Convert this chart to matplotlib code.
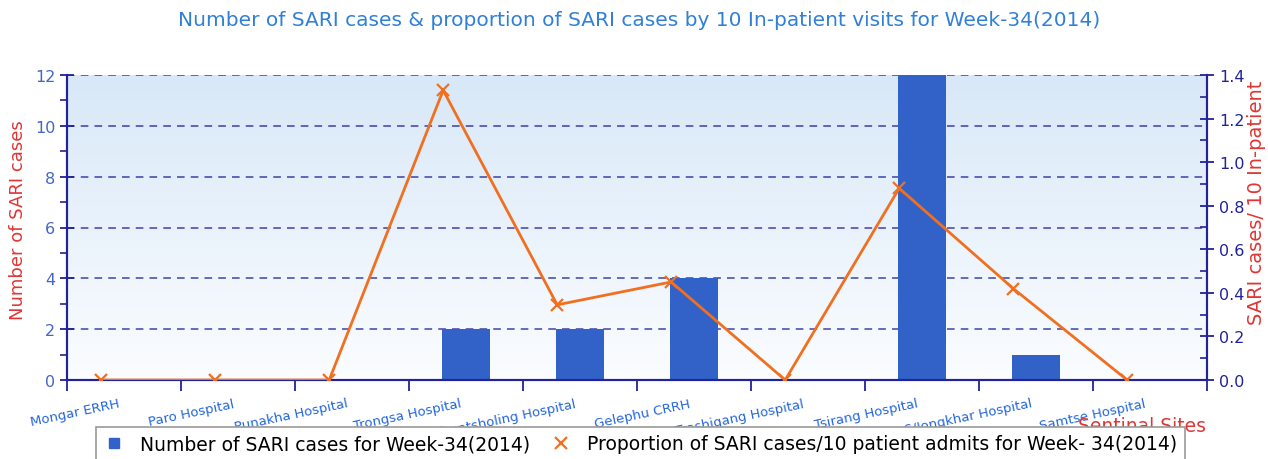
import numpy as np
import matplotlib
matplotlib.use("Agg")
import matplotlib.pyplot as plt
from matplotlib.lines import Line2D
from matplotlib.ticker import MultipleLocator

matplotlib.rcParams['font.family'] = "DejaVu Sans"

sites = ["Mongar ERRH", "Paro Hospital", "Punakha Hospital", "Trongsa Hospital",
         "Phuntsholing Hospital", "Gelephu CRRH", "Trashigang Hospital",
         "Tsirang Hospital", "S/Jongkhar Hospital", "Samtse Hospital"]
sari_cases = [0, 0, 0, 2, 2, 4, 0, 12, 1, 0]
sari_prop = [0, 0, 0, 1.33, 0.345, 0.45, 0, 0.88, 0.42, 0]

navy = "#22229a"
blue_bar = "#3262c8"
orange = "#f07020"
red = "#e03535"

fig = plt.figure(figsize=(12.68, 4.6), dpi=100)
ax = fig.add_axes([67/1268, 1-381/460, (1207-67)/1268, (381-76)/460])
ax2 = ax.twinx()

x = np.arange(len(sites))

# gradient background
grad = np.linspace(0, 1, 256).reshape(-1, 1)
ax.imshow(grad, cmap=matplotlib.colors.LinearSegmentedColormap.from_list("bg", ["#fbfdff", "#d8e8f8"]),
          extent=[0, 1, 0, 1], transform=ax.transAxes, aspect='auto', origin='lower', zorder=0)

ax.bar(x, sari_cases, width=0.42, color=blue_bar, zorder=2)
ax2.plot(x - 0.2, sari_prop, color=orange, lw=2, marker='x', ms=8, mew=1.6, zorder=3)

ax.set_xlim(-0.5, len(sites) - 0.5)
ax.set_ylim(0, 12)
ax2.set_ylim(0, 1.4)

ax.set_axisbelow(True)
ax.yaxis.set_major_locator(MultipleLocator(2))
ax.yaxis.set_minor_locator(MultipleLocator(1))
ax2.yaxis.set_major_locator(MultipleLocator(0.2))
ax2.yaxis.set_minor_locator(MultipleLocator(0.1))
ax2.yaxis.set_major_formatter(matplotlib.ticker.FormatStrFormatter('%.1f'))
ax.grid(axis='y', color=navy, linestyle=(0, (5, 4)), lw=1.1, alpha=0.85)

# category boundaries as ticks, labels as minor ticks
ax.set_xticks(np.arange(len(sites) + 1) - 0.5)
ax.set_xticklabels([])
ax.set_xticks(x - 0.05, minor=True)
ax.set_xticklabels(sites, minor=True, rotation=12, ha='right', rotation_mode='anchor',
                   fontsize=9.5, color="#2266dd")
ax.tick_params(axis='x', which='major', length=8, color=navy, width=1.3)
ax.tick_params(axis='x', which='minor', length=0, pad=12)

ax.tick_params(axis='y', which='major', direction='inout', length=10, color=navy, width=1.3,
               labelsize=11.5, labelcolor="#4466c8")
ax.tick_params(axis='y', which='minor', length=5, color=navy, width=1.2)
ax2.tick_params(axis='y', which='major', direction='inout', length=10, color=navy, width=1.3,
                labelsize=11.5, labelcolor=navy)
ax2.tick_params(axis='y', which='minor', direction='in', length=5, color=navy, width=1.2)

for a in (ax, ax2):
    a.spines['top'].set_visible(False)
    for s in ('left', 'right', 'bottom'):
        a.spines[s].set_color(navy)
        a.spines[s].set_linewidth(1.5)

fig.text(639/1268, 1-21/460, "Number of SARI cases & proportion of SARI cases by 10 In-patient visits for Week-34(2014)",
         ha='center', va='center', fontsize=14.5, color="#3080d8")
fig.text(18/1268, 1-220/460, "Number of SARI cases", rotation=90, ha='center', va='center',
         fontsize=13, color=red)
fig.text(1257/1268, 1-203/460, "SARI cases/ 10 In-patient", rotation=90, ha='center', va='center',
         fontsize=14, color=red)
fig.text(1206/1268, 1-427/460, "Sentinal Sites", ha='right', va='center', fontsize=13.5, color=red)

handles = [Line2D([], [], ls='none', marker='s', ms=7, color=blue_bar),
           Line2D([], [], ls='none', marker='x', ms=8, mew=1.6, color=orange)]
labels = ["Number of SARI cases for Week-34(2014)",
          "Proportion of SARI cases/10 patient admits for Week- 34(2014)"]
leg = fig.legend(handles, labels, ncol=2, loc='upper center',
                 bbox_to_anchor=(640/1268, 1-428/460),
                 borderaxespad=0, fontsize=13.5, frameon=True, fancybox=False, handlelength=1.2,
                 columnspacing=1.0, borderpad=0.4, framealpha=1)
leg.get_frame().set_edgecolor("#999999")
leg.get_frame().set_linewidth(1.2)

fig.savefig("out.png", dpi=100)
